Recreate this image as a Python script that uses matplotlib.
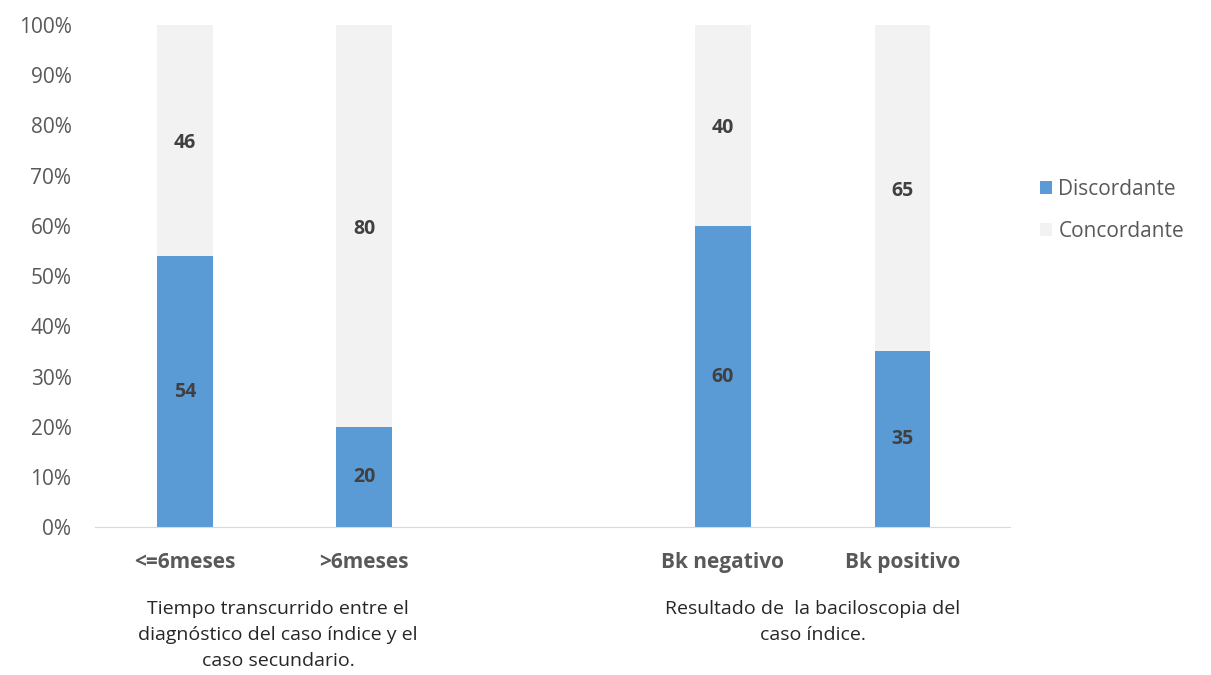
import numpy as np
import matplotlib.pyplot as plt
from matplotlib.ticker import PercentFormatter

plt.rcParams['font.family'] = ['Open Sans', 'DejaVu Sans']

categories = ["<=6meses", ">6meses", "Bk negativo", "Bk positivo"]
positions = [0, 1, 3, 4]
discordante = [54, 20, 60, 35]
concordante = [46, 80, 40, 65]
group_labels = ["Tiempo transcurrido entre el\ndiagnóstico del caso índice y el\ncaso secundario.",
                "Resultado de  la baciloscopia del\ncaso índice."]

blue = "#5B9BD5"
light = "#F2F2F2"
gray = "#595959"

fig = plt.figure(figsize=(12.11, 6.75), dpi=100)
ax = fig.add_axes([0.0785, 0.219, 0.7555, 0.744])

w = 0.31
b1 = ax.bar(positions, discordante, width=w, color=blue, label="Discordante")
b2 = ax.bar(positions, concordante, width=w, bottom=discordante, color=light, label="Concordante")

for p, d, c in zip(positions, discordante, concordante):
    ax.text(p, d / 2, str(d), ha="center", va="center", fontsize=14,
            fontweight="bold", color="#404040")
    ax.text(p, d + c / 2 - 0.6, str(c), ha="center", va="center", fontsize=14,
            fontweight="bold", color="#404040")

ax.set_xlim(-0.5, 4.6)
ax.set_ylim(0, 100)
ax.set_yticks(np.arange(0, 101, 10))
ax.yaxis.set_major_formatter(PercentFormatter(decimals=0))
ax.tick_params(axis="y", length=0, labelsize=15, labelcolor=gray, pad=17)
ax.set_xticks(positions)
ax.set_xticklabels(categories)
ax.tick_params(axis="x", length=0, labelsize=15, labelcolor=gray, pad=18)
for lbl in ax.get_xticklabels():
    lbl.set_fontweight("bold")

for s in ["top", "right", "left"]:
    ax.spines[s].set_visible(False)
ax.spines["bottom"].set_color("#D9D9D9")

ax.text(0.52, -0.146, group_labels[0], transform=ax.get_xaxis_transform(),
        ha="center", va="top", fontsize=14, color="#262626", linespacing=1.55)
ax.text(3.5, -0.146, group_labels[1], transform=ax.get_xaxis_transform(),
        ha="center", va="top", fontsize=14, color="#262626", linespacing=1.55)

fig.legend(handles=[b1, b2], loc="upper left", bbox_to_anchor=(0.843, 0.763),
           frameon=False, fontsize=15, handlelength=0.6, handleheight=0.6,
           handletextpad=0.3, labelspacing=1.0, labelcolor=gray)

fig.savefig("out.png", dpi=100)
